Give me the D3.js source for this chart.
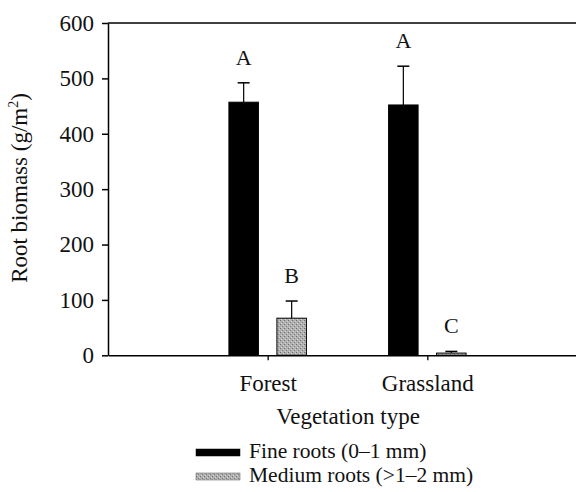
<!DOCTYPE html>
<html><head><meta charset="utf-8">
<script src="https://cdn.jsdelivr.net/npm/d3@7"></script>
<style>body{margin:0;background:#fff}svg{display:block}text{font-family:"Liberation Serif","Times New Roman",serif;fill:#111}</style>
</head><body><svg id="c" width="576" height="492"></svg>
<script>
const categories = ["Forest", "Grassland"];
const seriesNames = ["Fine roots (0\u20131 mm)", "Medium roots (>1\u20132 mm)"];
const fineMeans = [457, 452];
const fineErr = [35, 70];
const mediumMeans = [67, 4];
const mediumErr = [31, 3];
const fineLetters = ["A", "A"];
const mediumLetters = ["B", "C"];
const yTicks = [0, 100, 200, 300, 400, 500, 600];

(function(){
const svg = d3.select("#c");
const defs = svg.append("defs");
const pat = defs.append("pattern").attr("id","stip").attr("patternUnits","userSpaceOnUse").attr("width",4).attr("height",4);
pat.append("rect").attr("width",4).attr("height",4).attr("fill","#b0b0b0");
pat.append("rect").attr("x",0).attr("y",0).attr("width",1).attr("height",1).attr("fill","#707070");
pat.append("rect").attr("x",2).attr("y",2).attr("width",1).attr("height",1).attr("fill","#808080");
pat.append("rect").attr("x",3).attr("y",1).attr("width",1).attr("height",1).attr("fill","#d4d4d4");
pat.append("rect").attr("x",1).attr("y",3).attr("width",1).attr("height",1).attr("fill","#d8d8d8");

const mLeft = 108, mTop = 23, mBottom = 355.3, mRight = 587;
const y = d3.scaleLinear().domain([0, 600]).range([mBottom, mTop]);
const x = d3.scalePoint().domain(categories).range([mLeft, mRight]).padding(1);
const barW = 29.5, off = 24;

const series = [
  {name: seriesNames[0], means: fineMeans, errs: fineErr, letters: fineLetters, fill: "#000", dx: -off},
  {name: seriesNames[1], means: mediumMeans, errs: mediumErr, letters: mediumLetters, fill: "url(#stip)", dx: off}
];

series.forEach(s => {
  const g = svg.append("g");
  categories.forEach((c, i) => {
    const cx = x(c) + s.dx;
    g.append("rect").attr("x", cx - barW/2).attr("y", y(s.means[i]))
      .attr("width", barW).attr("height", y(0) - y(s.means[i]))
      .attr("fill", s.fill).attr("stroke", "#000").attr("stroke-width", 1);
    const yt = y(s.means[i] + s.errs[i]);
    g.append("line").attr("x1", cx).attr("x2", cx).attr("y1", y(s.means[i])).attr("y2", yt)
      .attr("stroke", "#000").attr("stroke-width", 1.2);
    g.append("line").attr("x1", cx - 6).attr("x2", cx + 6).attr("y1", yt).attr("y2", yt)
      .attr("stroke", "#000").attr("stroke-width", 1.5);
    g.append("text").attr("x", cx).attr("y", yt - 18).attr("text-anchor", "middle")
      .attr("font-size", 22).text(s.letters[i]);
  });
});

const yAxis = d3.axisLeft(y).tickValues(yTicks).tickSize(6).tickPadding(8).tickSizeOuter(0);
const ya = svg.append("g").attr("transform", `translate(${mLeft},0)`).call(yAxis);
ya.select(".domain").attr("stroke", "#000").attr("stroke-width", 1.5);
ya.selectAll(".tick line").attr("stroke", "#000").attr("stroke-width", 1.5);
ya.selectAll(".tick text").attr("font-size", 23).attr("font-family", "Liberation Serif").attr("fill", "#111");

const xAxis = d3.axisBottom(x).tickSize(5).tickPadding(14).tickSizeOuter(0);
const xa = svg.append("g").attr("transform", `translate(0,${mBottom})`).call(xAxis);
xa.select(".domain").attr("stroke", "#000").attr("stroke-width", 1.5);
xa.selectAll(".tick line").attr("stroke", "#000").attr("stroke-width", 1.3);
xa.selectAll(".tick text").attr("font-size", 23).attr("font-family", "Liberation Serif").attr("fill", "#111");

svg.append("line").attr("x1", mLeft).attr("x2", mRight).attr("y1", mTop).attr("y2", mTop)
  .attr("stroke", "#000").attr("stroke-width", 1.5);

const yl = svg.append("text").attr("transform", `translate(27,188) rotate(-90)`)
  .attr("text-anchor", "middle").attr("font-size", 23);
yl.append("tspan").text("Root biomass (g/m");
yl.append("tspan").attr("font-size", 14).attr("dy", -9).text("2");
yl.append("tspan").attr("dy", 9).text(")");

svg.append("text").attr("x", 348).attr("y", 424).attr("text-anchor", "middle")
  .attr("font-size", 23).text("Vegetation type");

const leg = svg.append("g");
series.forEach((s, i) => {
  const base = 458 + i * 24;
  leg.append("rect").attr("x", 196).attr("y", base - 9).attr("width", 44).attr("height", 7)
    .attr("fill", s.fill).attr("stroke", i ? "#555" : "#000").attr("stroke-width", 0.5);
  leg.append("text").attr("x", 249).attr("y", base).attr("font-size", 21.5).text(s.name);
});
})();
</script></body></html>
